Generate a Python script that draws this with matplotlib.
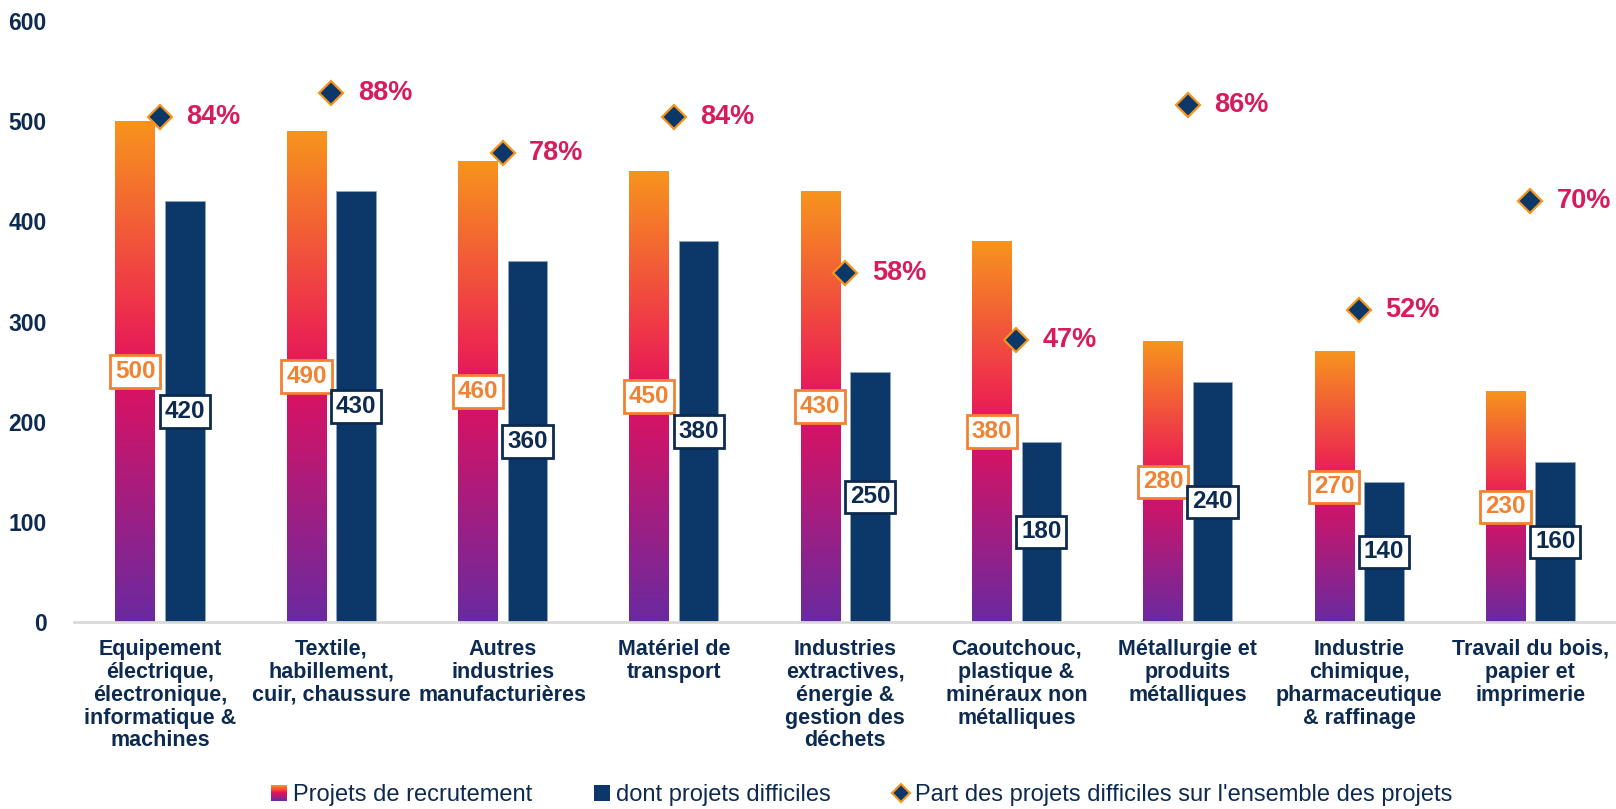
import numpy as np
import matplotlib
matplotlib.use("Agg")
from matplotlib import pyplot as plt
from matplotlib.colors import LinearSegmentedColormap
from matplotlib.patches import Rectangle
from matplotlib.legend_handler import HandlerBase
from matplotlib.lines import Line2D

plt.rcParams['font.family'] = ['Liberation Sans', 'DejaVu Sans']

categories = [
    "Equipement\nélectrique,\nélectronique,\ninformatique &\nmachines",
    "Textile,\nhabillement,\ncuir, chaussure",
    "Autres\nindustries\nmanufacturières",
    "Matériel de\ntransport",
    "Industries\nextractives,\nénergie &\ngestion des\ndéchets",
    "Caoutchouc,\nplastique &\nminéraux non\nmétalliques",
    "Métallurgie et\nproduits\nmétalliques",
    "Industrie\nchimique,\npharmaceutique\n& raffinage",
    "Travail du bois,\npapier et\nimprimerie",
]
projets = [500, 490, 460, 450, 430, 380, 280, 270, 230]
difficiles = [420, 430, 360, 380, 250, 180, 240, 140, 160]
part = [0.84, 0.88, 0.78, 0.84, 0.58, 0.47, 0.86, 0.52, 0.70]

navy = "#0b3868"
text_navy = "#0d2a50"
orange = "#f08232"
pink = "#d81b5a"

grad = LinearSegmentedColormap.from_list(
    "grad", [(0.0, "#6a2aa0"), (0.5, "#e0115f"), (0.62, "#ee2f4c"), (1.0, "#f7941d")])


class GradientHandler(HandlerBase):
    def create_artists(self, legend, orig_handle, xdescent, ydescent, width, height, fontsize, trans):
        n = 20
        side = height * 0.95
        x0 = -xdescent + (width - side) / 2
        y0 = -ydescent + (height - side) / 2
        arts = []
        for k in range(n):
            r = Rectangle((x0, y0 + side * k / n), side, side / n + 0.3,
                          facecolor=grad((k + 0.5) / n), edgecolor="none", transform=trans)
            arts.append(r)
        return arts


class SquareHandler(HandlerBase):
    def create_artists(self, legend, orig_handle, xdescent, ydescent, width, height, fontsize, trans):
        side = height * 0.95
        x0 = -xdescent + (width - side) / 2
        y0 = -ydescent + (height - side) / 2
        return [Rectangle((x0, y0), side, side, facecolor=navy, edgecolor="none", transform=trans)]


fig = plt.figure(figsize=(16.16, 8.09), dpi=100)
ax = fig.add_axes([0.046, 0.231, 0.954, 0.743])

x = np.arange(len(categories))
w = 0.23
off = 0.145

bars1 = ax.bar(x - off, projets, width=w, color="none", edgecolor="none", zorder=2)
bars2 = ax.bar(x + off, difficiles, width=w, color=navy, edgecolor="#8fa6c0", linewidth=0.6, zorder=2)

gimg = np.linspace(0, 1, 256).reshape(-1, 1)
for b in bars1:
    bx, by = b.get_x(), b.get_y()
    bw, bh = b.get_width(), b.get_height()
    ax.imshow(gimg, cmap=grad, origin="lower", aspect="auto",
              extent=(bx, bx + bw, by, by + bh), zorder=2)

ax.set_xlim(-0.5, 8.5)
ax.set_ylim(0, 600)
ax.set_aspect("auto")

for xi, v in zip(x, projets):
    ax.text(xi - off, v / 2, str(v), ha="center", va="center", fontsize=17.5, fontweight="bold",
            color=orange, zorder=5,
            bbox=dict(boxstyle="square,pad=0.2", facecolor="white", edgecolor=orange, linewidth=2))
for xi, v in zip(x, difficiles):
    ax.text(xi + off, v / 2, str(v), ha="center", va="center", fontsize=17.5, fontweight="bold",
            color=text_navy, zorder=5,
            bbox=dict(boxstyle="square,pad=0.2", facecolor="white", edgecolor=text_navy, linewidth=2))

ax2 = ax.twinx()
ax2.set_ylim(0, 1.0)
ax2.plot(x, part, linestyle="none", marker="D", markersize=12, markerfacecolor=navy,
         markeredgecolor="#f7941d", markeredgewidth=1.6, zorder=4)
for xi, p in zip(x, part):
    ax2.text(xi + 0.155, p, f"{p:.0%}", ha="left", va="center", fontsize=19.5, fontweight="bold", color=pink)
ax2.axis("off")

ax.set_xticks(x)
ax.set_xticklabels(categories, fontsize=15.5, fontweight="bold", color=text_navy, linespacing=1.12, va="top")
ax.set_yticks(range(0, 601, 100))
ax.set_yticklabels([str(t) for t in range(0, 601, 100)], fontsize=16.5, fontweight="bold", color=text_navy)
ax.tick_params(axis="both", length=0)
ax.tick_params(axis="x", pad=12)
ax.tick_params(axis="y", pad=20)
for s in ["top", "right", "left"]:
    ax.spines[s].set_visible(False)
ax.spines["bottom"].set_color("#d9d9d9")
ax.spines["bottom"].set_linewidth(2)

h1 = Rectangle((0, 0), 1, 1)
h2 = Rectangle((0, 0), 1, 1)
h3 = Line2D([], [], linestyle="none", marker="D", markersize=9, markerfacecolor=navy,
            markeredgecolor="#f7941d", markeredgewidth=1.5)
leg = fig.legend([h1, h2, h3],
                 ["Projets de recrutement", "dont projets difficiles",
                  "Part des projets difficiles sur l'ensemble des projets"],
                 handler_map={h1: GradientHandler(), h2: SquareHandler()},
                 loc="center", bbox_to_anchor=(0.533, 0.017), ncol=3, frameon=False,
                 fontsize=17, handlelength=0.7, handletextpad=0.25, columnspacing=2.6)
for t in leg.get_texts():
    t.set_color(text_navy)

fig.savefig("out.png", dpi=100)
